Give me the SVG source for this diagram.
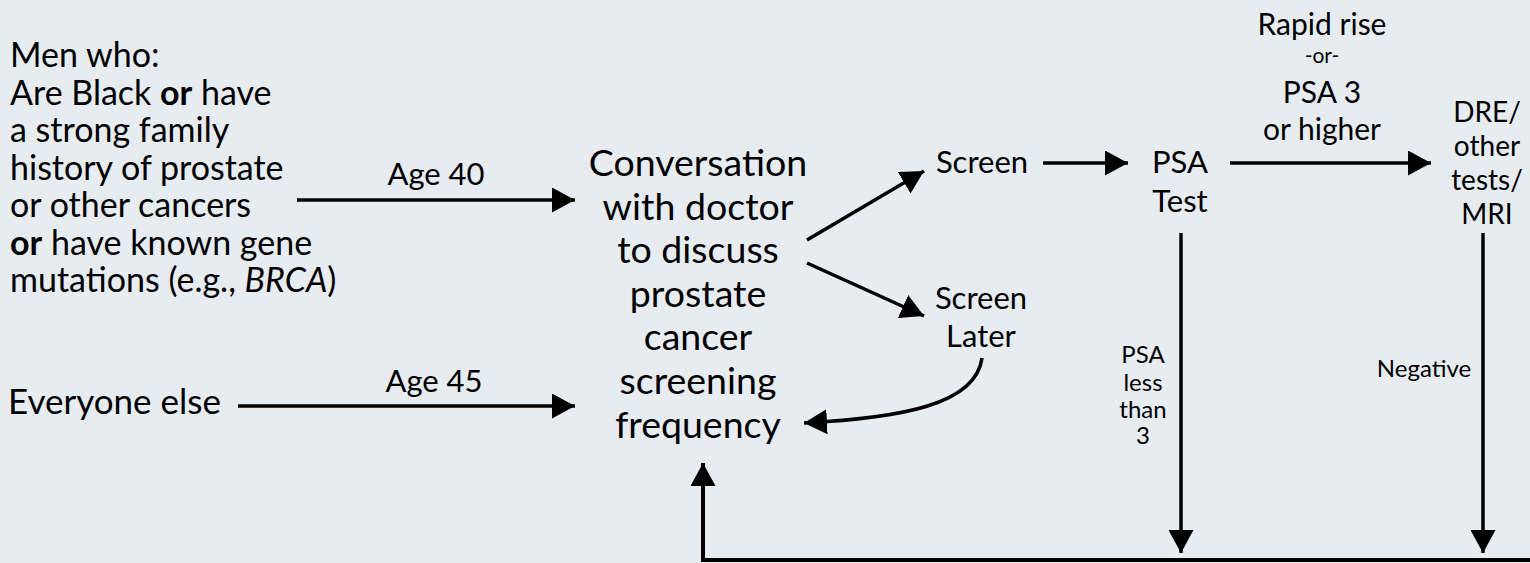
<svg xmlns="http://www.w3.org/2000/svg" width="1530" height="563" viewBox="0 0 1530 563">
<defs>
<marker id="ah" markerUnits="userSpaceOnUse" markerWidth="23" markerHeight="25" refX="23" refY="12.5" orient="auto" viewBox="0 0 23 25">
<path d="M0,0 L23,12.5 L0,25 z" fill="#000"/>
</marker>
<style>
text{font-family:Lato,"Liberation Sans",sans-serif;fill:#000}
.l{font-size:34px}
.e{font-size:35px}
.c{font-size:37.5px;text-anchor:middle}
.m{font-size:31px;text-anchor:middle}
.s{font-size:30px;text-anchor:middle}
.d{font-size:28px;text-anchor:middle}
.xs{font-size:24px;text-anchor:middle}
.or{font-size:21px;text-anchor:middle}
.b{font-weight:bold}
.i{font-style:italic}
.ln{fill:none;stroke:#000;stroke-width:3.5}
.bl{fill:none;stroke:#000;stroke-width:4}
</style>
</defs>
<rect width="1530" height="563" fill="#e7ecf1"/>
<g id="connectors">
<line class="ln" x1="297" y1="200" x2="575" y2="200" marker-end="url(#ah)"/>
<line class="ln" x1="238" y1="406" x2="575" y2="406" marker-end="url(#ah)"/>
<line class="ln" x1="807" y1="240" x2="924" y2="171" marker-end="url(#ah)"/>
<line class="ln" x1="807" y1="263" x2="924" y2="316" marker-end="url(#ah)"/>
<path class="ln" d="M982,358 C976,405 900,418 804,423" marker-end="url(#ah)"/>
<line class="ln" x1="1043" y1="163" x2="1128" y2="163" marker-end="url(#ah)"/>
<line class="ln" x1="1230" y1="163" x2="1431" y2="163" marker-end="url(#ah)"/>
<line class="ln" x1="1181" y1="233" x2="1181" y2="553" marker-end="url(#ah)"/>
<line class="ln" x1="1483" y1="233" x2="1483" y2="553" marker-end="url(#ah)"/>
<path class="bl" d="M1532,560 L703,560 L703,463" marker-end="url(#ah)"/>
</g>
<g id="men">
<text class="l" x="10" y="67">Men who:</text>
<text class="l" x="10" y="104.5">Are Black <tspan class="b">or</tspan> have</text>
<text class="l" x="10" y="142">a strong family</text>
<text class="l" x="10" y="179.5">history of prostate</text>
<text class="l" x="10" y="217">or other cancers</text>
<text class="l" x="10" y="254.5"><tspan class="b">or</tspan> have known gene</text>
<text class="l" x="10" y="292">mutations (e.g., <tspan class="i">BRCA</tspan>)</text>
</g>
<g id="everyone">
<text class="e" x="8" y="414">Everyone else</text>
</g>
<g id="age40"><text class="m" x="436" y="185">Age 40</text></g>
<g id="age45"><text class="m" x="434" y="392">Age 45</text></g>
<g id="conversation">
<text class="c" x="698" y="176">Conversation</text>
<text class="c" x="698" y="219.6">with doctor</text>
<text class="c" x="698" y="263.2">to discuss</text>
<text class="c" x="698" y="306.8">prostate</text>
<text class="c" x="698" y="350.4">cancer</text>
<text class="c" x="698" y="394">screening</text>
<text class="c" x="698" y="437.6">frequency</text>
</g>
<g id="screen"><text class="m" x="982" y="173">Screen</text></g>
<g id="screen-later">
<text class="m" x="981" y="309">Screen</text>
<text class="m" x="981" y="347">Later</text>
</g>
<g id="psa-test">
<text class="m" x="1180" y="173">PSA</text>
<text class="m" x="1180" y="212">Test</text>
</g>
<g id="rapid-label">
<text class="s" x="1322" y="35">Rapid rise</text>
<text class="or" x="1322" y="63">-or-</text>
<text class="s" x="1322" y="103">PSA 3</text>
<text class="s" x="1322" y="140">or higher</text>
</g>
<g id="dre">
<text class="d" x="1487" y="122">DRE/</text>
<text class="d" x="1487" y="156">other</text>
<text class="d" x="1487" y="190">tests/</text>
<text class="d" x="1487" y="224">MRI</text>
</g>
<g id="psa-less-label">
<text class="xs" x="1143" y="363">PSA</text>
<text class="xs" x="1143" y="391">less</text>
<text class="xs" x="1143" y="418">than</text>
<text class="xs" x="1143" y="444">3</text>
</g>
<g id="negative-label"><text class="xs" x="1424" y="377">Negative</text></g>
</svg>
